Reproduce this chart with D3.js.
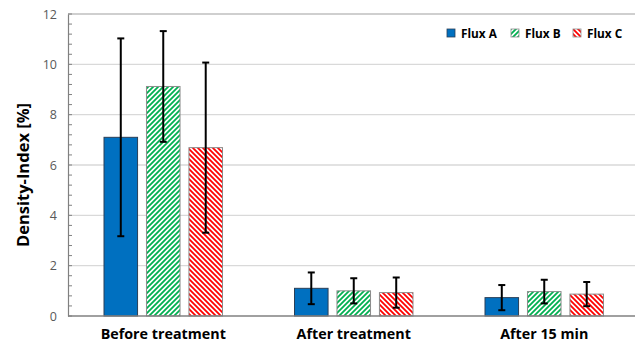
<!DOCTYPE html>
<html><head><meta charset="utf-8">
<script src="https://cdn.jsdelivr.net/npm/d3@7"></script>
<style>body{margin:0;background:#fff;} svg{display:block;}</style>
</head><body>
<svg id="c" width="635" height="348"></svg>
<script>
const categories = ["Before treatment", "After treatment", "After 15 min"];
const series = ["Flux A", "Flux B", "Flux C"];
const fluxA = [7.1, 1.1, 0.73];
const fluxB = [9.12, 1.0, 0.97];
const fluxC = [6.69, 0.93, 0.87];
const errA = [3.93, 0.63, 0.5];
const errB = [2.2, 0.5, 0.47];
const errC = [3.38, 0.6, 0.48];
const yTicks = [0, 2, 4, 6, 8, 10, 12];

const values = [fluxA, fluxB, fluxC];
const errors = [errA, errB, errC];
const colors = ["#0070C0", "#00B050", "#FF0000"];
const font = "'Open Sans', Lato, sans-serif";

const svg = d3.select("#c");
const m = {l: 68, r: 639.5, t: 14, b: 316};

const defs = svg.append("defs");
function hatch(id, color, dir) {
  const p = defs.append("pattern").attr("id", id).attr("patternUnits", "userSpaceOnUse")
    .attr("width", 5).attr("height", 5);
  p.append("rect").attr("width", 5).attr("height", 5).attr("fill", "#fff");
  const d = dir > 0
    ? "M0,5 L5,0 M-2.5,2.5 L2.5,-2.5 M2.5,7.5 L7.5,2.5"
    : "M0,0 L5,5 M-2.5,2.5 L2.5,7.5 M2.5,-2.5 L7.5,2.5";
  p.append("path").attr("d", d).attr("stroke", color).attr("stroke-width", 1.8);
}
hatch("hB", colors[1], 1);
hatch("hC", colors[2], -1);
const fills = [colors[0], "url(#hB)", "url(#hC)"];
const strokes = ["#2a3f57", "#8c8c8c", "#8c8c8c"];

const x0 = d3.scaleBand().domain(categories).range([m.l, m.r]).paddingInner(0.378).paddingOuter(0.189);
const x1 = d3.scaleBand().domain(series).range([0, x0.bandwidth()]).paddingInner(0.21);
const y = d3.scaleLinear().domain([0, 12]).range([m.b, m.t]);

// gridlines
svg.append("g").selectAll("line").data(yTicks.filter(d => d > 0)).join("line")
  .attr("x1", m.l).attr("x2", m.r).attr("y1", d => y(d)).attr("y2", d => y(d))
  .attr("stroke", d => d === 12 ? "#bfbfbf" : "#d9d9d9").attr("stroke-width", 1.3);

// y axis with inside ticks
const yAxis = d3.axisLeft(y).tickValues(yTicks).tickSize(0).tickPadding(11);
const ga = svg.append("g").attr("transform", `translate(${m.l},0)`).call(yAxis);
ga.select(".domain").attr("stroke", "#808080").attr("stroke-width", 1.2);
ga.selectAll("text").attr("font-family", font).attr("font-size", 12.5).attr("fill", "#595959");
const minor = d3.range(0, 12.001, 0.4);
svg.append("g").selectAll("line").data(minor).join("line")
  .attr("x1", m.l).attr("x2", m.l + 4).attr("y1", d => y(d)).attr("y2", d => y(d))
  .attr("stroke", "#808080").attr("stroke-width", 1);

// bars
categories.forEach((cat, ci) => {
  series.forEach((s, si) => {
    const v = values[si][ci], e = errors[si][ci];
    const bx = x0(cat) + x1(s);
    svg.append("rect").attr("x", bx).attr("y", y(v)).attr("width", x1.bandwidth())
      .attr("height", y(0) - y(v)).attr("fill", fills[si])
      .attr("stroke", strokes[si]).attr("stroke-width", 1);
    const cx = bx + x1.bandwidth() / 2;
    const g = svg.append("g").attr("stroke", "#000").attr("stroke-width", 2);
    g.append("line").attr("x1", cx).attr("x2", cx).attr("y1", y(v + e)).attr("y2", y(v - e));
    g.append("line").attr("x1", cx - 3.5).attr("x2", cx + 3.5).attr("y1", y(v + e)).attr("y2", y(v + e));
    g.append("line").attr("x1", cx - 3.5).attr("x2", cx + 3.5).attr("y1", y(v - e)).attr("y2", y(v - e));
  });
});

// x axis line
svg.append("line").attr("x1", m.l).attr("x2", m.r).attr("y1", m.b).attr("y2", m.b)
  .attr("stroke", "#808080").attr("stroke-width", 1.3);

// x labels
const xAxis = d3.axisBottom(x0).tickSize(0).tickPadding(13);
const gx = svg.append("g").attr("transform", `translate(0,${m.b})`).call(xAxis);
gx.select(".domain").remove();
gx.selectAll("text").attr("font-family", font).attr("font-size", 14.3).attr("font-weight", "bold").attr("fill", "#000");

// y title
svg.append("text").attr("transform", `translate(29,175) rotate(-90)`)
  .attr("text-anchor", "middle").attr("font-family", font).attr("font-size", 16.5)
  .attr("font-weight", "bold").attr("fill", "#000").text("Density-Index [%]");

// legend
const lx = [447, 511, 573];
series.forEach((s, i) => {
  const g = svg.append("g").attr("transform", `translate(${lx[i]},29)`);
  g.append("rect").attr("width", 8).attr("height", 8).attr("fill", fills[i])
    .attr("stroke", strokes[i]).attr("stroke-width", 0.8);
  g.append("text").attr("x", 14).attr("y", 8.5).attr("font-family", font).attr("font-size", 11.8)
    .attr("font-weight", "bold").attr("fill", "#000").text(s);
});
</script>
</body></html>
